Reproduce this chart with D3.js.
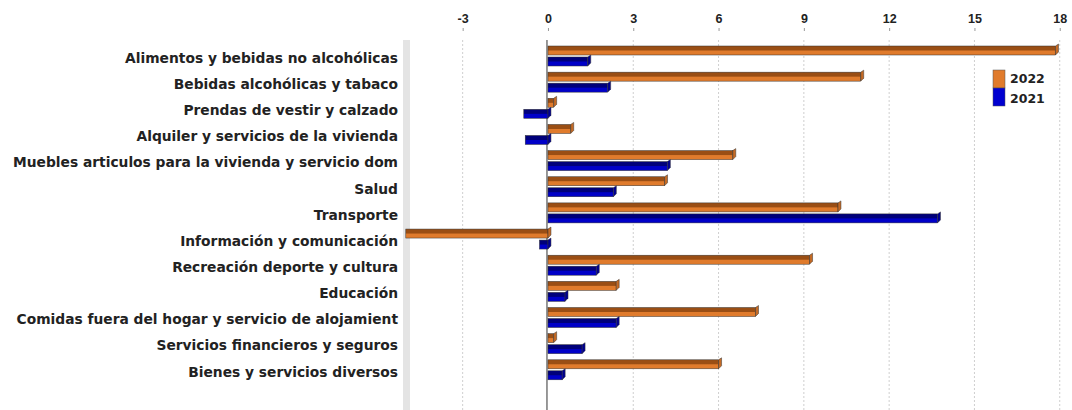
<!DOCTYPE html>
<html>
<head>
<meta charset="utf-8">
<script src="https://cdn.jsdelivr.net/npm/d3@7"></script>
<style>
  body { margin: 0; background: #fff; }
  text { font-family: "DejaVu Sans", Verdana, sans-serif; font-weight: bold; fill: #222; }
</style>
</head>
<body>
<svg id="chart" width="1072" height="410"></svg>
<script>
// categories, top to bottom
const categories = [
    "Alimentos y bebidas no alcohólicas",
    "Bebidas alcohólicas y tabaco",
    "Prendas de vestir y calzado",
    "Alquiler y servicios de la vivienda",
    "Muebles articulos para la vivienda y servicio dom",
    "Salud",
    "Transporte",
    "Información y comunicación",
    "Recreación deporte y cultura",
    "Educación",
    "Comidas fuera del hogar y servicio de alojamient",
    "Servicios financieros y seguros",
    "Bienes y servicios diversos"
];
const values2022 = [17.85, 11.0, 0.2, 0.8, 6.5, 4.1, 10.2, -5.0, 9.2, 2.4, 7.3, 0.2, 6.0];
const values2021 = [1.4, 2.1, -0.85, -0.8, 4.2, 2.3, 13.7, -0.3, 1.7, 0.6, 2.4, 1.2, 0.5];
const tickValues = [-3, 0, 3, 6, 9, 12, 15, 18];
const seriesNames = ["2022", "2021"];

const svg = d3.select("#chart");

const x = d3.scaleLinear().domain([-5, 18.15]).range([405.8, 1064]);
const y = d3.scaleBand().domain(categories).range([44, 44 + 13 * 26.15]);

// gradients for the pseudo 3D bars
const defs = svg.append("defs");
function grad(id, dark, light) {
    const g = defs.append("linearGradient").attr("id", id)
        .attr("x1", 0).attr("y1", 0).attr("x2", 0).attr("y2", 1);
    g.append("stop").attr("offset", "0%").attr("stop-color", dark);
    g.append("stop").attr("offset", "45%").attr("stop-color", dark);
    g.append("stop").attr("offset", "55%").attr("stop-color", light);
    g.append("stop").attr("offset", "100%").attr("stop-color", light);
}
grad("g2022", "#9a4e14", "#e07b2c");
grad("g2021", "#00007a", "#0000c8");

// back wall on the left
svg.append("rect")
    .attr("x", 403).attr("y", 40).attr("width", 7).attr("height", 370)
    .attr("fill", "#e4e4e4");

// grid
svg.append("g").selectAll("line")
    .data(tickValues.filter(d => d !== 0))
    .join("line")
    .attr("x1", d => x(d)).attr("x2", d => x(d))
    .attr("y1", 40).attr("y2", 410)
    .attr("stroke", "#cfcfcf")
    .attr("stroke-dasharray", "2,2");

// top axis
const xAxis = svg.append("g")
    .attr("transform", "translate(0,31)")
    .call(d3.axisTop(x).tickValues(tickValues).tickFormat(d => String(d)).tickSize(3).tickPadding(5));
xAxis.select(".domain").remove();
xAxis.selectAll(".tick line").attr("stroke", "#999");
xAxis.selectAll("text")
    .style("font-family", "'Liberation Sans', Arial, sans-serif")
    .style("font-size", "12.5px").attr("fill", "#222");

// zero line
svg.append("line")
    .attr("x1", x(0) - 1).attr("x2", x(0) - 1)
    .attr("y1", 40).attr("y2", 410)
    .attr("stroke", "#777").attr("stroke-width", 1.5);

// category labels
svg.append("g").selectAll("text")
    .data(categories)
    .join("text")
    .attr("x", 398)
    .attr("y", d => y(d) + 14)
    .attr("dy", "0.35em")
    .attr("text-anchor", "end")
    .style("font-size", "13.8px")
    .text(d => d);

// bars
function drawSeries(vals, offset, fillId, capColor) {
    const g = svg.append("g");
    const rows = categories.map((c, i) => ({ c: c, v: vals[i] }));
    g.selectAll("rect")
        .data(rows)
        .join("rect")
        .attr("x", d => Math.min(x(0), x(d.v)))
        .attr("y", d => y(d.c) + offset)
        .attr("width", d => Math.abs(x(d.v) - x(0)))
        .attr("height", 9)
        .attr("fill", "url(#" + fillId + ")")
        .attr("stroke", "#333")
        .attr("stroke-width", 0.5);
    // end cap
    g.selectAll("path")
        .data(rows)
        .join("path")
        .attr("d", d => {
            const xe = Math.max(x(0), x(d.v));
            const yt = y(d.c) + offset;
            return "M" + xe + "," + yt + "l3,-2 l0,8 l-3,3 z";
        })
        .attr("fill", capColor)
        .attr("stroke", "#333")
        .attr("stroke-width", 0.5);
}
drawSeries(values2022, 2, "g2022", "#c56a24");
drawSeries(values2021, 13, "g2021", "#000090");

// legend
const legend = svg.append("g").attr("transform", "translate(993,70)");
legend.selectAll("rect")
    .data(seriesNames)
    .join("rect")
    .attr("x", 0).attr("y", (d, i) => i * 18)
    .attr("width", 12).attr("height", 18)
    .attr("fill", (d, i) => i === 0 ? "#e07b2c" : "#0000d0")
    .attr("stroke", "#555").attr("stroke-width", 0.5);
legend.selectAll("text")
    .data(seriesNames)
    .join("text")
    .attr("x", 17).attr("y", (d, i) => i * 20 + 9)
    .attr("dy", "0.35em")
    .style("font-size", "12.5px")
    .text(d => d);
</script>
</body>
</html>
